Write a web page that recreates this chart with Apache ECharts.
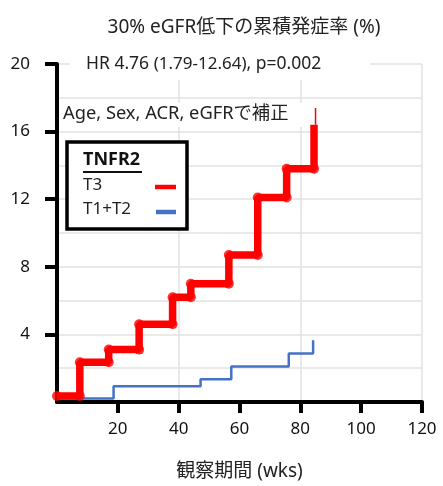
<!DOCTYPE html>
<html><head><meta charset="utf-8">
<script src="https://cdn.jsdelivr.net/npm/echarts@6/dist/echarts.min.js"></script>
<style>html,body{margin:0;padding:0;background:#fff}#c{width:443px;height:486px}</style>
</head><body><div id="c"></div>
<script>
// ---- data ----
const titleText = '30% eGFR低下の累積発症率 (%)';
const xName = '観察期間 (wks)';
const hrMain = 'HR 4.76 ';
const hrCI = '(1.79-12.64)';
const hrP = ', p=0.002';
const adjText = 'Age, Sex, ACR, eGFRで補正';
const legendTitle = 'TNFR2';
const seriesNames = ['T3', 'T1+T2'];
// T3 (red) step points: week at which each level starts, cumulative incidence (%)
const redWeeks = [0, 7.5, 17, 27, 38, 44, 56.5, 66, 75.5, 84.5];
const redRates = [0.35, 2.35, 3.1, 4.6, 6.2, 7.0, 8.7, 12.1, 13.8, 16.4];
const redTailWeeks = [85, 85];
const redTailRates = [16.4, 17.4];
// T1+T2 (blue)
const blueWeeks = [0, 18.6, 47.2, 57.3, 76.2, 84.2];
const blueRates = [0.2, 0.93, 1.35, 2.1, 2.87, 3.65];
const xTicks = [0, 120, 20];
const yTicks = [0, 20, 4];

const RED = '#ff0000', BLUE = '#4472c4';
const FONT = "'Noto Sans', 'Noto Sans CJK JP', sans-serif";

const redLine = redWeeks.map((w, i) => [w, redRates[i]]);
const blueLine = blueWeeks.map((w, i) => [w, blueRates[i]]);
const redCorners = [];
for (let i = 0; i < redWeeks.length - 1; i++) {
  redCorners.push([redWeeks[i], redRates[i]]);
  redCorners.push([redWeeks[i + 1], redRates[i]]);
}
const redTail = redTailWeeks.map((w, i) => [w, redTailRates[i]]);

const chart = echarts.init(document.getElementById('c'), null, {renderer: 'canvas'});
const axisLbl = {color: '#111', fontSize: 17, fontFamily: FONT};
chart.setOption({
  animation: false,
  backgroundColor: '#fff',
  title: {
    text: titleText, left: 239, top: 13, textAlign: 'center',
    textStyle: {fontSize: 19, fontWeight: 'normal', color: '#222', fontFamily: FONT}
  },
  grid: {left: 57, right: 21, top: 64, bottom: 81},
  xAxis: [{
    type: 'value', min: xTicks[0], max: xTicks[1], interval: xTicks[2],
    name: xName, nameLocation: 'middle', nameGap: 60,
    nameTextStyle: {fontSize: 19, color: '#222', fontFamily: FONT},
    axisLine: {lineStyle: {color: '#000', width: 4}},
    axisTick: {length: 11, lineStyle: {color: '#000', width: 4}},
    axisLabel: Object.assign({margin: 19, showMinLabel: false}, axisLbl),
    splitLine: {show: false}
  }, {
    type: 'value', min: xTicks[0], max: xTicks[1], interval: 40, position: 'bottom',
    axisLine: {show: false}, axisTick: {show: false}, axisLabel: {show: false},
    splitLine: {show: true, lineStyle: {color: '#e2e2e2', width: 1.5}}
  }],
  yAxis: {
    type: 'value', min: yTicks[0], max: yTicks[1], interval: yTicks[2],
    axisLine: {show: true, lineStyle: {color: '#000', width: 4}},
    axisTick: {show: true, length: 12, lineStyle: {color: '#000', width: 4}},
    axisLabel: Object.assign({margin: 27, showMinLabel: false}, axisLbl),
    splitLine: {show: true, lineStyle: {color: '#e2e2e2', width: 1.5}},
    minorTick: {show: false, splitNumber: 2},
    minorSplitLine: {show: true, lineStyle: {color: '#e2e2e2', width: 1.5}}
  },
  series: [{
    name: seriesNames[1], type: 'line', step: 'end', data: blueLine,
    showSymbol: false, lineStyle: {color: BLUE, width: 2.5}, itemStyle: {color: BLUE}, z: 3
  }, {
    name: seriesNames[0], type: 'line', step: 'end', data: redLine,
    showSymbol: false, lineStyle: {color: RED, width: 7.5}, itemStyle: {color: RED}, z: 4
  }, {
    name: seriesNames[0], type: 'scatter', data: redCorners, symbolSize: 10,
    itemStyle: {color: RED}, z: 5
  }, {
    name: seriesNames[0], type: 'line', data: redTail, showSymbol: false,
    lineStyle: {color: RED, width: 1.5}, z: 4
  }],
  graphic: [
    {type: 'rect', z: 100, shape: {x: 70, y: 52, width: 300, height: 28}, style: {fill: '#fff'}},
    {type: 'text', z: 101, left: 86, top: 55, style: {
      text: '{a|' + hrMain + '}{b|' + hrCI + '}{a|' + hrP + '}',
      rich: {a: {fontSize: 17.5, fontFamily: FONT, fill: '#222'}, b: {fontSize: 17, fontFamily: FONT, fill: '#222'}},
      fill: '#222'
    }},
    {type: 'rect', z: 100, shape: {x: 59, y: 103, width: 243, height: 24}, style: {fill: '#fff'}},
    {type: 'text', z: 101, left: 63, top: 105, style: {text: adjText, fontSize: 18.3, fontFamily: FONT, fill: '#222'}},
    {type: 'rect', z: 100, shape: {x: 67, y: 142, width: 120, height: 87}, style: {fill: '#fff', stroke: '#000', lineWidth: 3.5}},
    {type: 'text', z: 101, left: 83, top: 151, style: {text: legendTitle, fontSize: 18, fontWeight: 'bold', fontFamily: FONT, fill: '#111'}},
    {type: 'line', z: 101, shape: {x1: 83, y1: 172, x2: 142, y2: 172}, style: {stroke: '#111', lineWidth: 2}},
    {type: 'text', z: 101, left: 83, top: 177, style: {text: seriesNames[0], fontSize: 17, fontFamily: FONT, fill: '#222'}},
    {type: 'text', z: 101, left: 83, top: 201, style: {text: seriesNames[1], fontSize: 17, fontFamily: FONT, fill: '#222'}},
    {type: 'line', z: 101, shape: {x1: 155, y1: 187, x2: 176, y2: 187}, style: {stroke: RED, lineWidth: 4.5}},
    {type: 'line', z: 101, shape: {x1: 156, y1: 212, x2: 176, y2: 212}, style: {stroke: BLUE, lineWidth: 4.5}}
  ]
});
</script></body></html>
